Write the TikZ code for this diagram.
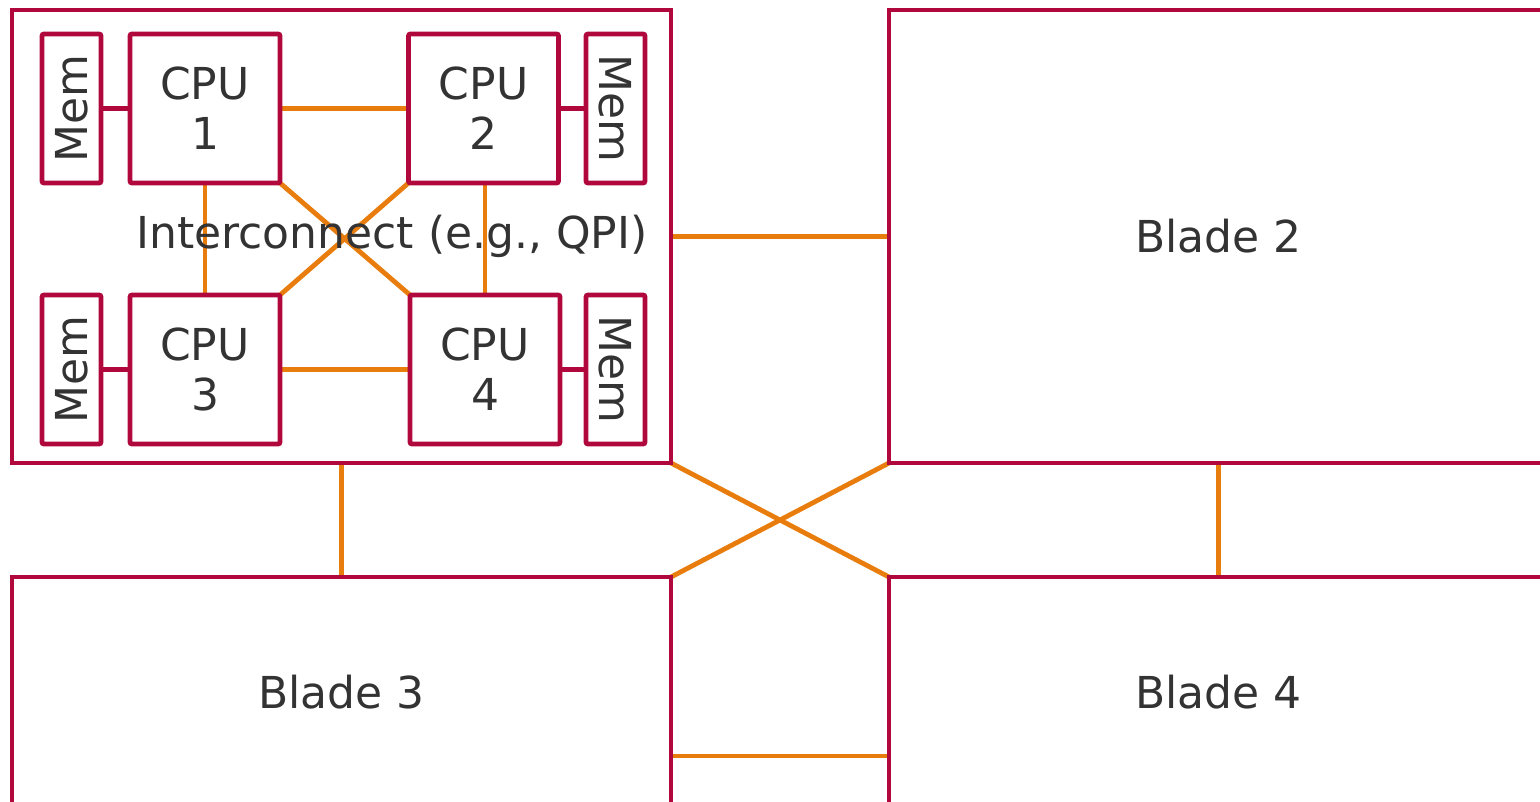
\documentclass[tikz,border=0pt]{standalone}
\usepackage{fontspec}
\setmainfont{DejaVu Sans}
\usetikzlibrary{positioning,backgrounds}
\definecolor{bladered}{RGB}{176,8,60}
\definecolor{linkorange}{RGB}{232,125,13}
\definecolor{textgray}{RGB}{51,51,51}
\tikzset{
  box/.style={draw=bladered, line width=4.8pt, inner sep=0pt, outer sep=0pt,
    text=textgray, align=center, font=\fontsize{44}{50}\selectfont},
  blade/.style={box, minimum width=659pt, minimum height=453pt},
  cpu/.style={box, rounded corners=2pt, minimum width=150pt, minimum height=149pt},
  mem/.style={box, rounded corners=2pt, minimum width=59pt, minimum height=149pt},
  link/.style={draw=linkorange, line width=4.8pt},
  memlink/.style={draw=bladered, line width=4.8pt},
}
\begin{document}
\begin{tikzpicture}[x=1pt,y=-1pt]
\useasboundingbox (0,0) rectangle (1540,802);
\clip (0,0) rectangle (1540,802);
% blades
\node[blade] (blade1) at (341.5,236.5) {};
\node[blade] (blade2) at (1218.5,236.5) {Blade 2};
\node[blade, minimum height=230pt] (blade3) at (341.5,692) {Blade 3};
\node[blade, minimum height=230pt] (blade4) at (1218.5,692) {Blade 4};
% cpus and memory on blade 1
\node[cpu] (cpu1) at (205,108.5) {CPU\\1};
\node[cpu] (cpu2) at (483.5,108.5) {CPU\\2};
\node[cpu] (cpu3) at (205,369.5) {CPU\\3};
\node[cpu] (cpu4) at (485,369.5) {CPU\\4};
\node[mem] (mem1) at (71.5,108.5) {\rotatebox{90}{Mem}};
\node[mem] (mem2) at (615.5,108.5) {\rotatebox{-90}{Mem}};
\node[mem] (mem3) at (71.5,369.5) {\rotatebox{90}{Mem}};
\node[mem] (mem4) at (615.5,369.5) {\rotatebox{-90}{Mem}};
\begin{pgfonlayer}{background}
\draw[memlink] (mem1.east) -- (cpu1.west);
\draw[memlink] (cpu2.east) -- (mem2.west);
\draw[memlink] (mem3.east) -- (cpu3.west);
\draw[memlink] (cpu4.east) -- (mem4.west);
\draw[link] (cpu1.east) -- (cpu2.west);
\draw[link] (cpu3.east) -- (cpu4.west);
\draw[link] (cpu1.south) -- (cpu3.north);
\draw[link] (cpu2.south -| cpu4.north) -- (cpu4.north);
\draw[link] (cpu1.south east) -- (cpu4.north west);
\draw[link] (cpu2.south west) -- (cpu3.north east);
% links between blades
\draw[link] (blade1.east) -- (blade2.west);
\draw[link] (blade1.south) -- (blade3.north);
\draw[link] (blade2.south) -- (blade4.north);
\draw[link] (blade1.south east) -- (blade4.north west);
\draw[link] (blade2.south west) -- (blade3.north east);
\draw[link] ([yshift=-64pt]blade3.east) -- ([yshift=-64pt]blade4.west);
\end{pgfonlayer}
\node[text=textgray, font=\fontsize{44}{50}\selectfont] (qpi) at (392,236) {Interconnect (e.g., QPI)};
\end{tikzpicture}
\end{document}
